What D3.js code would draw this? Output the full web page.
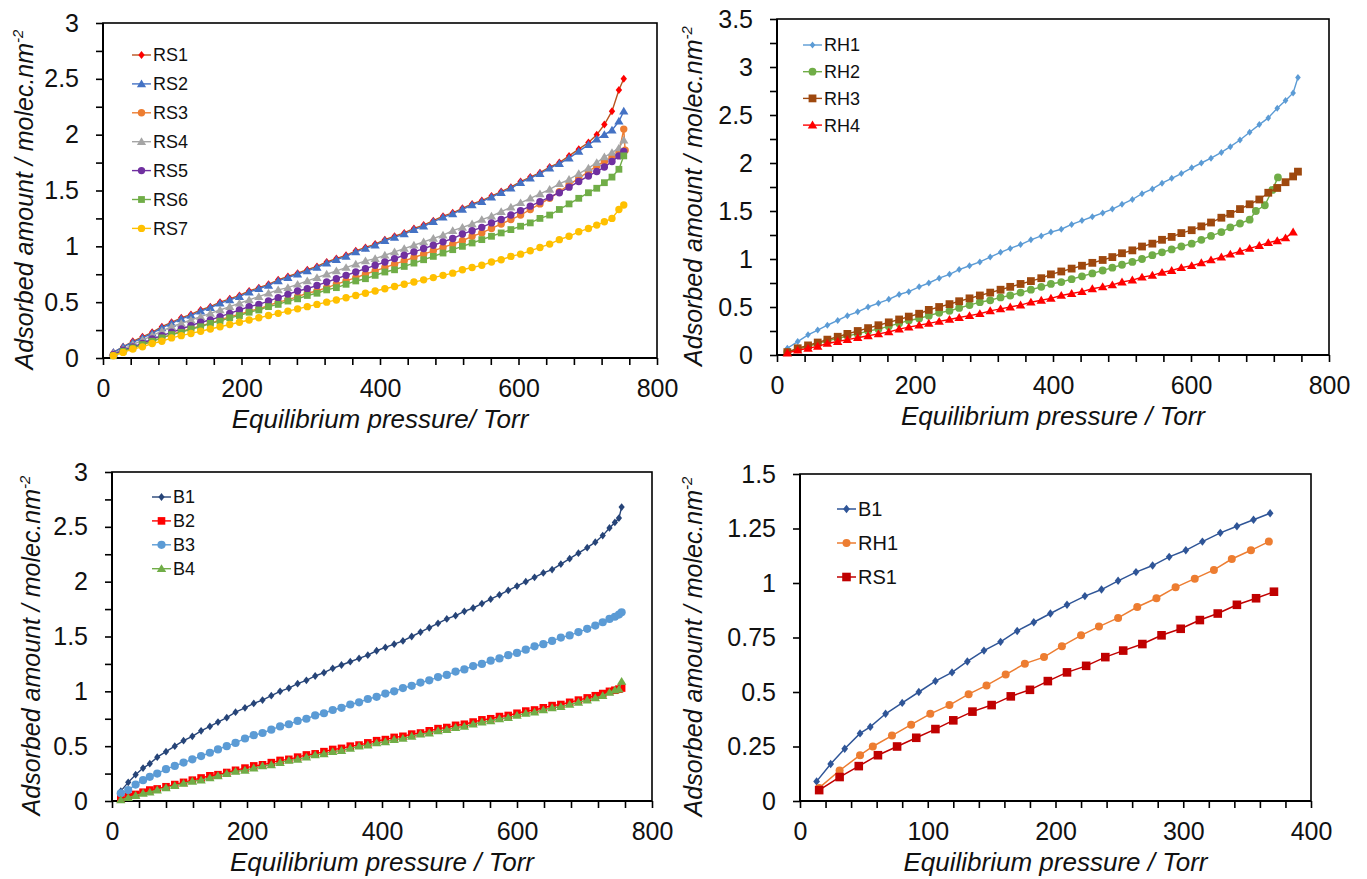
<!DOCTYPE html>
<html>
<head>
<meta charset="utf-8">
<script src="https://cdn.jsdelivr.net/npm/d3@7"></script>
<style>
  body { margin: 0; background: #fff; }
  svg { display: block; font-family: "Liberation Sans", Arial, sans-serif; }
</style>
</head>
<body>
<svg id="chart" width="1367" height="879"></svg>
<script>
// ---- panel 1 : RS samples ----
const pRS = [15, 29, 43, 57, 71, 85, 99, 113, 127, 141, 155, 169, 183, 197, 211, 225, 239, 253, 267, 281,
  295, 309, 323, 337, 351, 365, 379, 393, 407, 421, 435, 449, 463, 477, 491, 505, 519, 533, 547, 561,
  575, 589, 603, 617, 631, 645, 659, 673, 687, 701, 713, 724, 735, 745, 752]
const pRS3 = pRS.concat([754])
const rs1 = [0.05, 0.10, 0.15, 0.19, 0.23, 0.28, 0.32, 0.36, 0.39, 0.43, 0.46, 0.50, 0.53, 0.56, 0.60, 0.63, 0.66, 0.70, 0.73, 0.76,
  0.79, 0.82, 0.86, 0.89, 0.92, 0.96, 0.99, 1.02, 1.06, 1.09, 1.12, 1.16, 1.19, 1.23, 1.27, 1.30, 1.34, 1.38, 1.41, 1.45,
  1.49, 1.53, 1.58, 1.62, 1.66, 1.71, 1.75, 1.81, 1.87, 1.93, 2.00, 2.09, 2.21, 2.40, 2.50]
const rs2 = [0.05, 0.10, 0.14, 0.18, 0.22, 0.27, 0.31, 0.35, 0.38, 0.42, 0.45, 0.49, 0.52, 0.55, 0.59, 0.62, 0.65, 0.69, 0.72, 0.75,
  0.78, 0.81, 0.85, 0.88, 0.91, 0.95, 0.98, 1.01, 1.05, 1.08, 1.11, 1.15, 1.18, 1.22, 1.26, 1.29, 1.33, 1.37, 1.40, 1.44,
  1.48, 1.52, 1.57, 1.61, 1.65, 1.70, 1.74, 1.79, 1.85, 1.91, 1.96, 2.00, 2.04, 2.12, 2.21]
const rs3 = [0.03, 0.06, 0.09, 0.12, 0.15, 0.18, 0.21, 0.24, 0.26, 0.29, 0.31, 0.34, 0.37, 0.39, 0.42, 0.44, 0.47, 0.50, 0.52, 0.55,
  0.58, 0.60, 0.63, 0.66, 0.69, 0.72, 0.75, 0.78, 0.81, 0.84, 0.87, 0.90, 0.93, 0.96, 0.99, 1.02, 1.05, 1.09, 1.12, 1.16,
  1.20, 1.24, 1.28, 1.33, 1.38, 1.43, 1.49, 1.55, 1.61, 1.67, 1.72, 1.76, 1.80, 1.84, 2.05, 1.86]
const rs4 = [0.04, 0.08, 0.12, 0.16, 0.20, 0.24, 0.28, 0.31, 0.34, 0.37, 0.40, 0.43, 0.46, 0.49, 0.52, 0.55, 0.58, 0.61, 0.63, 0.66,
  0.69, 0.72, 0.75, 0.78, 0.81, 0.84, 0.87, 0.89, 0.92, 0.95, 0.98, 1.01, 1.04, 1.07, 1.10, 1.14, 1.17, 1.20, 1.24, 1.27,
  1.31, 1.35, 1.39, 1.43, 1.47, 1.51, 1.56, 1.60, 1.65, 1.70, 1.75, 1.80, 1.84, 1.88, 1.95]
const rs5 = [0.03, 0.07, 0.10, 0.13, 0.17, 0.20, 0.23, 0.26, 0.29, 0.32, 0.34, 0.37, 0.40, 0.43, 0.46, 0.48, 0.51, 0.54, 0.57, 0.60,
  0.62, 0.65, 0.68, 0.71, 0.74, 0.77, 0.80, 0.83, 0.86, 0.89, 0.92, 0.95, 0.98, 1.01, 1.04, 1.07, 1.11, 1.14, 1.17, 1.21,
  1.24, 1.28, 1.32, 1.36, 1.40, 1.44, 1.48, 1.53, 1.58, 1.63, 1.67, 1.71, 1.76, 1.81, 1.85]
const rs6 = [0.02, 0.06, 0.09, 0.12, 0.15, 0.18, 0.21, 0.23, 0.26, 0.28, 0.31, 0.33, 0.36, 0.38, 0.41, 0.43, 0.46, 0.48, 0.51, 0.53,
  0.56, 0.58, 0.61, 0.63, 0.66, 0.69, 0.71, 0.74, 0.77, 0.79, 0.82, 0.85, 0.88, 0.91, 0.94, 0.97, 1.00, 1.03, 1.06, 1.09,
  1.12, 1.15, 1.18, 1.21, 1.25, 1.28, 1.33, 1.38, 1.43, 1.48, 1.52, 1.57, 1.62, 1.69, 1.81]
const rs7 = [0.02, 0.05, 0.08, 0.10, 0.13, 0.15, 0.18, 0.20, 0.22, 0.24, 0.26, 0.28, 0.30, 0.32, 0.34, 0.36, 0.38, 0.40, 0.42, 0.44,
  0.46, 0.48, 0.50, 0.52, 0.54, 0.56, 0.58, 0.60, 0.62, 0.64, 0.66, 0.68, 0.70, 0.72, 0.74, 0.76, 0.79, 0.81, 0.83, 0.86,
  0.88, 0.91, 0.93, 0.96, 0.99, 1.02, 1.06, 1.09, 1.13, 1.16, 1.19, 1.22, 1.25, 1.33, 1.37]

// ---- panel 2 : RH samples ----
const pRH = [15, 30, 45, 59, 73, 88, 102, 117, 132, 147, 162, 177, 191, 206, 220, 235, 250, 264, 279, 294,
  309, 324, 338, 353, 368, 383, 397, 412, 427, 442, 457, 472, 486, 500, 515, 529, 544, 558, 572, 586,
  601, 615, 629, 644, 657, 671, 685, 699, 712, 725, 737, 748, 755]
const pRH2 = [15, 30, 45, 59, 73, 88, 102, 117, 132, 147, 162, 177, 191, 206, 220, 235, 250, 264, 279, 294,
  309, 324, 338, 353, 368, 383, 397, 412, 427, 442, 457, 472, 486, 500, 515, 529, 544, 558, 572, 586,
  601, 615, 629, 644, 657, 671, 685, 694, 707, 718, 726]
const rh1 = [0.07, 0.14, 0.21, 0.26, 0.31, 0.36, 0.41, 0.45, 0.50, 0.54, 0.58, 0.63, 0.66, 0.71, 0.75, 0.80, 0.84, 0.89, 0.93, 0.97,
  1.02, 1.07, 1.11, 1.15, 1.20, 1.24, 1.28, 1.31, 1.36, 1.40, 1.44, 1.48, 1.52, 1.57, 1.62, 1.68, 1.73, 1.79, 1.84, 1.89,
  1.95, 2.00, 2.05, 2.11, 2.17, 2.24, 2.32, 2.40, 2.47, 2.57, 2.65, 2.73, 2.89]
const rh2 = [0.03, 0.06, 0.09, 0.12, 0.15, 0.17, 0.20, 0.22, 0.25, 0.27, 0.30, 0.33, 0.36, 0.38, 0.41, 0.44, 0.46, 0.49, 0.52, 0.55,
  0.57, 0.60, 0.62, 0.65, 0.68, 0.71, 0.74, 0.76, 0.79, 0.82, 0.85, 0.88, 0.91, 0.94, 0.97, 1.00, 1.04, 1.07, 1.10, 1.13,
  1.16, 1.20, 1.24, 1.28, 1.33, 1.37, 1.41, 1.50, 1.56, 1.72, 1.85]
const rh3 = [0.03, 0.07, 0.10, 0.13, 0.16, 0.19, 0.22, 0.25, 0.28, 0.31, 0.34, 0.37, 0.40, 0.43, 0.47, 0.50, 0.53, 0.56, 0.59, 0.62,
  0.65, 0.68, 0.71, 0.74, 0.77, 0.80, 0.84, 0.87, 0.90, 0.93, 0.96, 0.99, 1.02, 1.06, 1.09, 1.13, 1.16, 1.20, 1.23, 1.27,
  1.30, 1.34, 1.38, 1.43, 1.47, 1.52, 1.57, 1.62, 1.69, 1.74, 1.80, 1.86, 1.91]
const rh4 = [0.02, 0.05, 0.07, 0.09, 0.12, 0.14, 0.16, 0.18, 0.20, 0.22, 0.24, 0.27, 0.29, 0.31, 0.33, 0.35, 0.37, 0.39, 0.41, 0.43,
  0.46, 0.48, 0.50, 0.52, 0.55, 0.57, 0.59, 0.62, 0.64, 0.66, 0.69, 0.71, 0.73, 0.76, 0.78, 0.81, 0.83, 0.86, 0.88, 0.91,
  0.93, 0.96, 0.99, 1.02, 1.05, 1.08, 1.11, 1.14, 1.17, 1.19, 1.22, 1.28]

// ---- panel 3 : B samples ----
const pB = [13, 24, 35, 46, 56, 67, 80, 93, 106, 119, 132, 145, 157, 170, 183, 197, 210, 223, 236, 249,
  262, 275, 288, 301, 314, 327, 340, 353, 366, 379, 392, 405, 418, 431, 444, 457, 470, 483, 496, 509,
  522, 535, 548, 561, 574, 587, 600, 613, 626, 639, 652, 665, 678, 691, 704, 716, 727, 737, 745, 751, 755]
const b1 = [0.09, 0.17, 0.24, 0.30, 0.34, 0.40, 0.45, 0.50, 0.55, 0.59, 0.64, 0.68, 0.72, 0.76, 0.81, 0.85, 0.89, 0.92, 0.96, 1.00,
  1.03, 1.07, 1.10, 1.14, 1.17, 1.21, 1.24, 1.27, 1.30, 1.33, 1.37, 1.40, 1.43, 1.46, 1.50, 1.54, 1.58, 1.62, 1.66, 1.69,
  1.73, 1.76, 1.80, 1.84, 1.88, 1.92, 1.96, 2.00, 2.04, 2.08, 2.11, 2.16, 2.21, 2.26, 2.31, 2.36, 2.42, 2.49, 2.54, 2.58, 2.68]
const b2 = [0.02, 0.04, 0.06, 0.08, 0.10, 0.11, 0.13, 0.15, 0.17, 0.19, 0.21, 0.23, 0.24, 0.26, 0.28, 0.30, 0.32, 0.33, 0.35, 0.37,
  0.38, 0.40, 0.42, 0.43, 0.45, 0.47, 0.48, 0.50, 0.51, 0.53, 0.55, 0.56, 0.58, 0.59, 0.61, 0.62, 0.64, 0.66, 0.67, 0.69,
  0.70, 0.72, 0.74, 0.75, 0.77, 0.78, 0.80, 0.82, 0.83, 0.85, 0.87, 0.88, 0.90, 0.92, 0.94, 0.96, 0.98, 1.00, 1.01, 1.02, 1.03]
const b3 = [0.07, 0.10, 0.15, 0.19, 0.22, 0.25, 0.29, 0.32, 0.35, 0.38, 0.41, 0.44, 0.47, 0.50, 0.53, 0.57, 0.60, 0.62, 0.65, 0.68,
  0.70, 0.73, 0.75, 0.78, 0.80, 0.83, 0.85, 0.88, 0.90, 0.93, 0.95, 0.98, 1.00, 1.03, 1.05, 1.08, 1.10, 1.13, 1.15, 1.18,
  1.20, 1.23, 1.25, 1.28, 1.30, 1.33, 1.35, 1.38, 1.41, 1.43, 1.46, 1.49, 1.51, 1.54, 1.57, 1.60, 1.63, 1.66, 1.68, 1.70, 1.72]
const b4 = [0.01, 0.03, 0.05, 0.07, 0.08, 0.10, 0.12, 0.14, 0.16, 0.18, 0.19, 0.21, 0.23, 0.25, 0.27, 0.28, 0.30, 0.32, 0.33, 0.35,
  0.37, 0.38, 0.40, 0.42, 0.43, 0.45, 0.46, 0.48, 0.50, 0.51, 0.53, 0.54, 0.56, 0.57, 0.59, 0.61, 0.62, 0.64, 0.65, 0.67,
  0.68, 0.70, 0.72, 0.73, 0.75, 0.76, 0.78, 0.80, 0.81, 0.83, 0.85, 0.86, 0.88, 0.90, 0.92, 0.94, 0.96, 0.99, 1.01, 1.02, 1.09]

// ---- panel 4 : comparison, low pressure ----
const pCmpB1 = [13, 24, 35, 47, 55, 67, 80, 93, 106, 119, 131, 144, 157, 170, 183, 196, 209, 223, 236, 249, 263, 276, 289, 302, 315, 329, 342, 355, 368]
const cmpB1 = [0.09, 0.17, 0.24, 0.31, 0.34, 0.40, 0.45, 0.50, 0.55, 0.59, 0.64, 0.69, 0.73, 0.78, 0.82, 0.86, 0.90, 0.94, 0.97, 1.01,
  1.05, 1.08, 1.12, 1.15, 1.19, 1.23, 1.26, 1.29, 1.32]
const pCmpRH1 = [15, 31, 47, 57, 72, 87, 102, 117, 132, 146, 161, 176, 191, 205, 220, 234, 249, 264, 279, 294, 309, 324, 338, 353, 367]
const cmpRH1 = [0.06, 0.14, 0.21, 0.25, 0.30, 0.35, 0.40, 0.44, 0.49, 0.53, 0.58, 0.63, 0.66, 0.71, 0.76, 0.80, 0.84, 0.89, 0.93, 0.98,
  1.02, 1.06, 1.11, 1.15, 1.19]
const pCmpRS1 = [15, 31, 46, 61, 76, 91, 106, 120, 135, 150, 165, 180, 194, 209, 224, 239, 253, 268, 283, 298, 313, 327, 342, 357, 371]
const cmpRS1 = [0.05, 0.11, 0.16, 0.21, 0.25, 0.29, 0.33, 0.37, 0.41, 0.44, 0.48, 0.51, 0.55, 0.59, 0.62, 0.66, 0.69, 0.72, 0.76, 0.79,
  0.83, 0.86, 0.90, 0.93, 0.96]

const xLabels800 = ["0", "200", "400", "600", "800"]
const xLabels400 = ["0", "100", "200", "300", "400"]
const yLabels3 = ["0", "0.5", "1", "1.5", "2", "2.5", "3"]
const yLabels35 = ["0", "0.5", "1", "1.5", "2", "2.5", "3", "3.5"]
const yLabels15 = ["0", "0.25", "0.5", "0.75", "1", "1.25", "1.5"]

const panels = [
  {
    box: [103, 657, 23, 358], xMax: 800, xMinor: 40, xLabels: xLabels800,
    yMax: 3, yMinor: 0.25, yLabels: yLabels3,
    xTitle: "Equilibrium pressure/ Torr", yTitleX: 33,
    legend: { x: 132, y: 55, dy: 28.9, size: 18 }, lw: 1.4,
    series: [
      { name: "RS1", p: pRS, v: rs1, line: "#B9531F", fill: "#FF0000", sym: "diamond", s: 4 },
      { name: "RS2", p: pRS, v: rs2, line: "#4472C4", fill: "#4472C4", sym: "triangle", s: 4.4 },
      { name: "RS3", p: pRS3, v: rs3, line: "#ED7D31", fill: "#ED7D31", sym: "circle", s: 3.7 },
      { name: "RS4", p: pRS, v: rs4, line: "#A5A5A5", fill: "#A5A5A5", sym: "triangle", s: 4.4 },
      { name: "RS5", p: pRS, v: rs5, line: "#7030A0", fill: "#7030A0", sym: "circle", s: 3.7 },
      { name: "RS6", p: pRS, v: rs6, line: "#70AD47", fill: "#70AD47", sym: "square", s: 3.4 },
      { name: "RS7", p: pRS, v: rs7, line: "#FFC000", fill: "#FFC000", sym: "circle", s: 3.7 }
    ]
  },
  {
    box: [777, 1329, 19, 355], xMax: 800, xMinor: 40, xLabels: xLabels800,
    yMax: 3.5, yMinor: 0.25, yLabels: yLabels35,
    xTitle: "Equilibrium pressure / Torr", yTitleX: 702,
    legend: { x: 803, y: 45, dy: 26.7, size: 18 }, lw: 1.4,
    series: [
      { name: "RH1", p: pRH, v: rh1, line: "#5B9BD5", fill: "#5B9BD5", sym: "diamond", s: 3.5 },
      { name: "RH2", p: pRH2, v: rh2, line: "#70AD47", fill: "#70AD47", sym: "circle", s: 3.9 },
      { name: "RH3", p: pRH, v: rh3, line: "#9E480E", fill: "#9E480E", sym: "square", s: 3.9 },
      { name: "RH4", p: pRH, v: rh4, line: "#FF0000", fill: "#FF0000", sym: "triangle", s: 4.5 }
    ]
  },
  {
    box: [112, 652, 472, 801], xMax: 800, xMinor: 40, xLabels: xLabels800,
    yMax: 3, yMinor: 0.25, yLabels: yLabels3,
    xTitle: "Equilibrium pressure / Torr", yTitleX: 40,
    legend: { x: 152, y: 497, dy: 23.9, size: 18 }, lw: 1.4,
    series: [
      { name: "B1", p: pB, v: b1, line: "#264478", fill: "#264478", sym: "diamond", s: 3.9 },
      { name: "B2", p: pB, v: b2, line: "#FF0000", fill: "#FF0000", sym: "square", s: 3.8 },
      { name: "B3", p: pB, v: b3, line: "#5B9BD5", fill: "#5B9BD5", sym: "circle", s: 4.1 },
      { name: "B4", p: pB, v: b4, line: "#70AD47", fill: "#70AD47", sym: "triangle", s: 4.5 }
    ]
  },
  {
    box: [800, 1311, 474, 801], xMax: 400, xMinor: 20, xLabels: xLabels400,
    yMax: 1.5, yMinor: 0.25, yLabels: yLabels15,
    xTitle: "Equilibrium pressure / Torr", yTitleX: 702,
    legend: { x: 837, y: 509, dy: 34, size: 20 }, lw: 1.5,
    series: [
      { name: "B1", p: pCmpB1, v: cmpB1, line: "#2F5597", fill: "#2F5597", sym: "diamond", s: 4.2 },
      { name: "RH1", p: pCmpRH1, v: cmpRH1, line: "#ED7D31", fill: "#ED7D31", sym: "circle", s: 4 },
      { name: "RS1", p: pCmpRS1, v: cmpRS1, line: "#C00000", fill: "#C00000", sym: "square", s: 4.3 }
    ]
  }
]

const svg = d3.select('#chart')

function marker(sym, s) {
  if (sym === "diamond") return `M0,${-s}L${s * 0.8},0L0,${s}L${-s * 0.8},0Z`
  if (sym === "triangle") return `M0,${-s}L${s * 1.05},${s * 0.75}L${-s * 1.05},${s * 0.75}Z`
  if (sym === "square") return `M${-s},${-s}H${s}V${s}H${-s}Z`
  const p = d3.path()
  p.arc(0, 0, s, 0, 2 * Math.PI)
  return p.toString()
}

panels.forEach(cfg => {
  const [left, right, top, bottom] = cfg.box
  const x = d3.scaleLinear().domain([0, cfg.xMax]).range([left, right])
  const y = d3.scaleLinear().domain([0, cfg.yMax]).range([bottom, top])
  const g = svg.append("g")

  // ticks: minor every step, labels where they fall on a label value
  const xLabelStep = cfg.xMax / (cfg.xLabels.length - 1)
  const yLabelStep = cfg.yMax / (cfg.yLabels.length - 1)
  const xTicks = d3.range(0, cfg.xMax + 1e-9, cfg.xMinor)
  const yTicks = d3.range(0, cfg.yMax + 1e-9, cfg.yMinor)

  const xAxis = d3.axisBottom(x).tickValues(xTicks).tickSize(7).tickPadding(14).tickSizeOuter(0)
    .tickFormat(d => {
      const k = d / xLabelStep
      return Math.abs(k - Math.round(k)) < 1e-6 ? cfg.xLabels[Math.round(k)] : ""
    })
  const yAxis = d3.axisLeft(y).tickValues(yTicks).tickSize(7).tickPadding(17).tickSizeOuter(0)
    .tickFormat(d => {
      const k = d / yLabelStep
      return Math.abs(k - Math.round(k)) < 1e-6 ? cfg.yLabels[Math.round(k)] : ""
    })

  const gx = g.append("g").attr("transform", `translate(0,${bottom})`).call(xAxis)
  const gy = g.append("g").attr("transform", `translate(${left},0)`).call(yAxis)
  ;[gx, gy].forEach(a => {
    a.select(".domain").remove()
    a.selectAll(".tick line").attr("stroke", "#000").attr("stroke-width", 1.6)
    a.selectAll(".tick text").attr("fill", "#111").style("font-size", "25px")
      .style("font-family", '"Liberation Sans", Arial, sans-serif')
  })

  // plot frame
  g.append("rect")
    .attr("x", left).attr("y", top)
    .attr("width", right - left).attr("height", bottom - top)
    .attr("fill", "none").attr("stroke", "#000").attr("stroke-width", 1.6)
  g.append("path")
    .attr("d", `M${left},${top}V${bottom}H${right}`)
    .attr("fill", "none").attr("stroke", "#000").attr("stroke-width", 2)

  // series
  const line = d3.line().x(d => x(d[0])).y(d => y(d[1]))
  cfg.series.forEach(s => {
    const pts = d3.zip(s.p, s.v)
    g.append("path")
      .datum(pts)
      .attr("d", line)
      .attr("fill", "none")
      .attr("stroke", s.line)
      .attr("stroke-width", cfg.lw)
    g.append("g")
      .selectAll("path")
      .data(pts)
      .join("path")
      .attr("transform", d => `translate(${x(d[0])},${y(d[1])})`)
      .attr("d", marker(s.sym, s.s))
      .attr("fill", s.fill)
  })

  // legend
  const lg = g.append("g")
  cfg.series.forEach((s, i) => {
    const ly = cfg.legend.y + i * cfg.legend.dy
    const lx = cfg.legend.x
    lg.append("line")
      .attr("x1", lx).attr("x2", lx + 19)
      .attr("y1", ly).attr("y2", ly)
      .attr("stroke", s.line).attr("stroke-width", cfg.lw)
    lg.append("path")
      .attr("transform", `translate(${lx + 9.5},${ly})`)
      .attr("d", marker(s.sym, s.s))
      .attr("fill", s.fill)
    lg.append("text")
      .attr("x", lx + 21).attr("y", ly)
      .attr("dy", "0.36em")
      .style("font-size", cfg.legend.size + "px")
      .attr("fill", "#111")
      .text(s.name)
  })

  // axis titles
  g.append("text")
    .attr("x", (left + right) / 2)
    .attr("y", bottom + 70)
    .attr("text-anchor", "middle")
    .style("font-size", "26px")
    .style("font-style", "italic")
    .attr("fill", "#111")
    .text(cfg.xTitle)

  const yt = g.append("text")
    .attr("transform", `translate(${cfg.yTitleX},${(top + bottom) / 2 + 9}) rotate(-90)`)
    .attr("text-anchor", "middle")
    .style("font-size", "25px")
    .style("font-style", "italic")
    .attr("fill", "#111")
  yt.append("tspan").text("Adsorbed amount / molec.nm")
  yt.append("tspan").attr("dy", "-10").style("font-size", "15px").text("-2")
})
</script>
</body>
</html>
